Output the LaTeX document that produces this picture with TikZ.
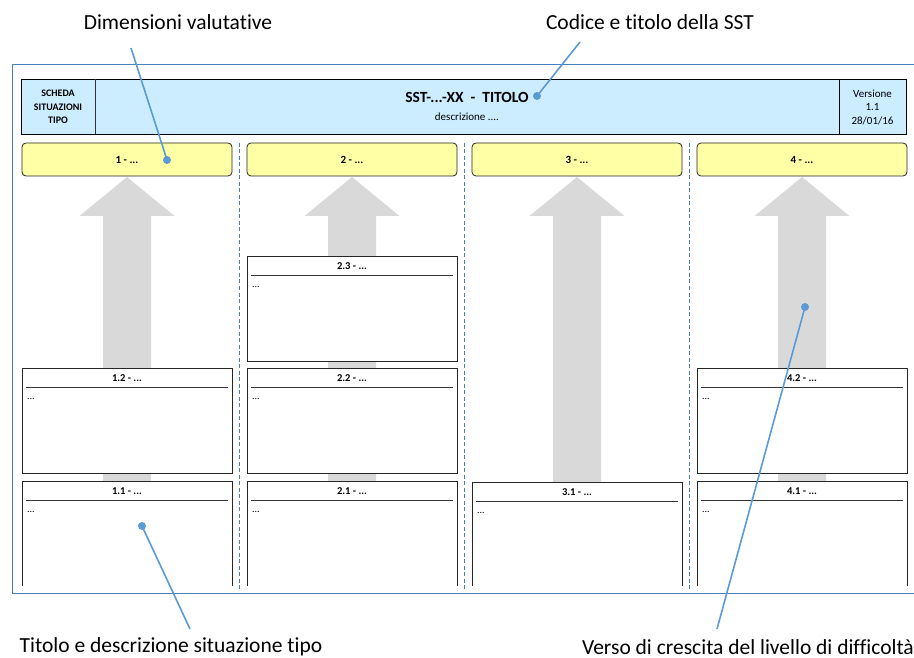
\documentclass[tikz,border=0pt]{standalone}
\usepackage{fontspec}
\setmainfont{Carlito}[Ligatures=NoCommon]
\definecolor{hdrblue}{HTML}{CCECFF}
\definecolor{yel}{HTML}{FFFFA6}
\definecolor{annot}{HTML}{5B9BD5}
\definecolor{frameblue}{HTML}{4A7EBB}
\definecolor{arrowgray}{HTML}{D9D9D9}
\begin{document}
\begin{tikzpicture}[x=1pt,y=-1pt,
  annottext/.style={font=\fontsize{21.5}{24}\selectfont, inner sep=0pt},
  annotline/.style={draw=annot, line width=1.6pt},
  dotmark/.style={circle, fill=annot, inner sep=0pt, minimum size=8pt},
  dimbox/.style={draw=black!85, fill=yel, line width=0.8pt, rounded corners=4pt},
  dimlabel/.style={font=\bfseries\fontsize{11}{13}\selectfont},
  sitbox/.style={draw=black!85, fill=white, line width=0.9pt},
  sitline/.style={draw=black!80, line width=0.8pt},
  sittitle/.style={font=\bfseries\fontsize{10.5}{12}\selectfont},
  sittext/.style={font=\fontsize{10}{12}\selectfont, anchor=west, inner sep=0pt},
  colsep/.style={draw=frameblue, line width=0.8pt, dash pattern=on 4pt off 2.5pt},
  bigarrow/.style={fill=arrowgray, draw=none}
]
\useasboundingbox (0,0) rectangle (914,658);
\clip (0,0) rectangle (914,658);

% outer frame
\draw[frameblue, line width=1pt] (930,65) -- (12,65) -- (12,593) -- (930,593);

% header
\draw[black, line width=0.9pt, fill=hdrblue] (21,79) rectangle (906,134);
\draw[black!80, line width=0.8pt] (95,79) -- (95,134);
\draw[black, line width=0.9pt] (839,79) -- (839,134);
\node[font=\bfseries\fontsize{10}{13.5}\selectfont, align=center] (scheda) at (58,107) {SCHEDA\\SITUAZIONI\\TIPO};
\node[font=\fontsize{11}{13.5}\selectfont, align=center] (versione) at (872.5,107) {Versione\\1.1\\28/01/16};
\node[font=\bfseries\fontsize{15.5}{17}\selectfont] (titolo) at (467,97) {SST-...-XX\ \ -\ \ TITOLO};
\node[font=\fontsize{11}{13}\selectfont] (descr) at (467,117) {descrizione ....};

% column separators
\foreach \sx in {239.5,464.5,689.5} {
  \draw[colsep] (\sx,143) -- (\sx,590);
}

% dimension boxes
\foreach \i/\bx in {1/22,2/247,3/472,4/697} {
  \draw[dimbox] (\bx,143) rectangle ++(210,33);
  \node[dimlabel] (dim\i) at (\bx+105,160) {\i\ - ...};
}

% gray arrows (difficulty direction)
\begin{scope}
\clip (0,0) rectangle (914,585);
\foreach \cx in {127,352,577,802} {
  \fill[bigarrow] (\cx,177) -- (\cx+47.5,216) -- (\cx+24,216) -- (\cx+24,600)
     -- (\cx-24,600) -- (\cx-24,216) -- (\cx-47.5,216) -- cycle;
}
% situation boxes
\foreach \nm/\bx/\ty/\by/\lab in {
   b12/22/368/473/1.2, b11/22/481/620/1.1,
   b23/247/256/361/2.3, b22/247/368/473/2.2, b21/247/481/620/2.1,
   b31/472/482/620/3.1,
   b42/697/368/473/4.2, b41/697/481/620/4.1} {
  \draw[sitbox] (\bx,\ty) rectangle (\bx+210,\by);
  \draw[sitline] (\bx+4,\ty+19) -- (\bx+206,\ty+19);
  \node[sittitle] (\nm t) at (\bx+105,\ty+10) {\lab\ - ...};
  \node[sittext] (\nm d) at (\bx+5,\ty+31) {...};
}
\end{scope}

% annotations
\node[annottext] (lbldim) at (178,22) {Dimensioni valutative};
\node[annottext] (lblcod) at (650,22) {Codice e titolo della SST};
\node[annottext] (lbltit) at (171,647) {Titolo e descrizione situazione tipo};
\node[annottext] (lblver) at (748,647) {Verso di crescita del livello di difficoltà};

\coordinate (cdim) at (131,48);
\coordinate (ccod) at (580,42);
\coordinate (ctit) at (190,629);
\coordinate (cver) at (717,629);

\node[dotmark] (ddim) at (167,160) {};
\node[dotmark] (dcod) at (537,96) {};
\node[dotmark] (dtit) at (142,526) {};
\node[dotmark] (dver) at (805,307) {};

\draw[annotline] (cdim) -- (ddim.center);
\draw[annotline] (ccod) -- (dcod.center);
\draw[annotline] (ctit) -- (dtit.center);
\draw[annotline] (cver) -- (dver.center);
\end{tikzpicture}
\end{document}
